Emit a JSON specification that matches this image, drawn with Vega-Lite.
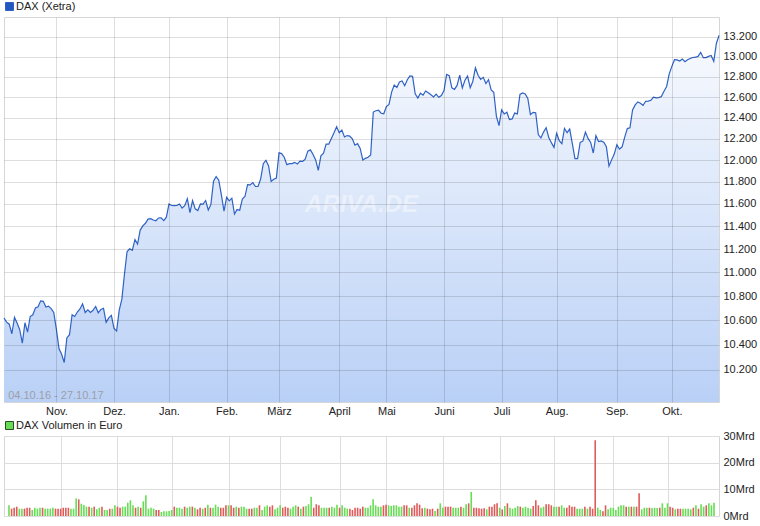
{
"$schema": "https://vega.github.io/schema/vega-lite/v6.json",
"padding": {"left": 1, "top": 0, "right": 0, "bottom": 0},
"spacing": 2,
"config": {
  "font": "Liberation Sans",
  "view": {"stroke": "#d6d6d6"},
  "axis": {"labelFont": "Liberation Sans", "labelFontSize": 11, "labelColor": "#222222", "gridColor": "#000000", "gridOpacity": 0.13, "ticks": false, "domain": false, "title": null},
  "legend": {"labelFont": "Liberation Sans", "labelFontSize": 11, "labelColor": "#222222", "symbolType": "square", "symbolSize": 64, "symbolStrokeWidth": 1, "orient": "top", "offset": 4, "padding": 0, "labelOffset": 1}
},
"data": {"values": [
{"i":0,"date":"2016-10-04","close":10619,"vol":4.0,"dir":"up"},
{"i":1,"date":"2016-10-05","close":10585,"vol":2.75,"dir":"down"},
{"i":2,"date":"2016-10-06","close":10568,"vol":3.1,"dir":"down"},
{"i":3,"date":"2016-10-07","close":10490,"vol":3.5,"dir":"down"},
{"i":4,"date":"2016-10-10","close":10624,"vol":2.75,"dir":"up"},
{"i":5,"date":"2016-10-11","close":10577,"vol":2.75,"dir":"up"},
{"i":6,"date":"2016-10-12","close":10523,"vol":2.75,"dir":"down"},
{"i":7,"date":"2016-10-13","close":10414,"vol":3.1,"dir":"down"},
{"i":8,"date":"2016-10-14","close":10580,"vol":3.1,"dir":"down"},
{"i":9,"date":"2016-10-17","close":10504,"vol":2.25,"dir":"up"},
{"i":10,"date":"2016-10-18","close":10631,"vol":3.1,"dir":"up"},
{"i":11,"date":"2016-10-19","close":10645,"vol":2.75,"dir":"up"},
{"i":12,"date":"2016-10-20","close":10701,"vol":3.1,"dir":"up"},
{"i":13,"date":"2016-10-21","close":10711,"vol":3.1,"dir":"down"},
{"i":14,"date":"2016-10-24","close":10761,"vol":2.75,"dir":"up"},
{"i":15,"date":"2016-10-25","close":10757,"vol":2.75,"dir":"up"},
{"i":16,"date":"2016-10-26","close":10709,"vol":2.75,"dir":"up"},
{"i":17,"date":"2016-10-27","close":10717,"vol":3.1,"dir":"up"},
{"i":18,"date":"2016-10-28","close":10696,"vol":2.75,"dir":"down"},
{"i":19,"date":"2016-10-31","close":10665,"vol":2.75,"dir":"down"},
{"i":20,"date":"2016-11-01","close":10526,"vol":2.75,"dir":"down"},
{"i":21,"date":"2016-11-02","close":10370,"vol":3.1,"dir":"down"},
{"i":22,"date":"2016-11-03","close":10325,"vol":3.1,"dir":"down"},
{"i":23,"date":"2016-11-04","close":10259,"vol":3.1,"dir":"down"},
{"i":24,"date":"2016-11-07","close":10456,"vol":2.75,"dir":"up"},
{"i":25,"date":"2016-11-08","close":10482,"vol":2.75,"dir":"up"},
{"i":26,"date":"2016-11-09","close":10646,"vol":6.6,"dir":"up"},
{"i":27,"date":"2016-11-10","close":10631,"vol":6.25,"dir":"down"},
{"i":28,"date":"2016-11-11","close":10668,"vol":4.6,"dir":"up"},
{"i":29,"date":"2016-11-14","close":10693,"vol":4.1,"dir":"up"},
{"i":30,"date":"2016-11-15","close":10735,"vol":3.5,"dir":"up"},
{"i":31,"date":"2016-11-16","close":10664,"vol":3.5,"dir":"down"},
{"i":32,"date":"2016-11-17","close":10686,"vol":3.1,"dir":"up"},
{"i":33,"date":"2016-11-18","close":10664,"vol":3.5,"dir":"down"},
{"i":34,"date":"2016-11-21","close":10682,"vol":2.5,"dir":"up"},
{"i":35,"date":"2016-11-22","close":10714,"vol":3.1,"dir":"up"},
{"i":36,"date":"2016-11-23","close":10662,"vol":3.5,"dir":"down"},
{"i":37,"date":"2016-11-24","close":10689,"vol":2.25,"dir":"up"},
{"i":38,"date":"2016-11-25","close":10699,"vol":2.25,"dir":"up"},
{"i":39,"date":"2016-11-28","close":10583,"vol":2.75,"dir":"down"},
{"i":40,"date":"2016-11-29","close":10620,"vol":2.75,"dir":"up"},
{"i":41,"date":"2016-11-30","close":10640,"vol":4.0,"dir":"up"},
{"i":42,"date":"2016-12-01","close":10534,"vol":3.5,"dir":"down"},
{"i":43,"date":"2016-12-02","close":10513,"vol":3.1,"dir":"down"},
{"i":44,"date":"2016-12-05","close":10684,"vol":3.5,"dir":"up"},
{"i":45,"date":"2016-12-06","close":10775,"vol":3.5,"dir":"up"},
{"i":46,"date":"2016-12-07","close":10987,"vol":5.0,"dir":"up"},
{"i":47,"date":"2016-12-08","close":11180,"vol":5.9,"dir":"up"},
{"i":48,"date":"2016-12-09","close":11203,"vol":4.0,"dir":"up"},
{"i":49,"date":"2016-12-12","close":11190,"vol":3.1,"dir":"down"},
{"i":50,"date":"2016-12-13","close":11284,"vol":3.5,"dir":"up"},
{"i":51,"date":"2016-12-14","close":11244,"vol":3.1,"dir":"down"},
{"i":52,"date":"2016-12-15","close":11367,"vol":5.5,"dir":"up"},
{"i":53,"date":"2016-12-16","close":11404,"vol":7.75,"dir":"up"},
{"i":54,"date":"2016-12-19","close":11427,"vol":2.75,"dir":"up"},
{"i":55,"date":"2016-12-20","close":11464,"vol":3.1,"dir":"up"},
{"i":56,"date":"2016-12-21","close":11468,"vol":2.75,"dir":"up"},
{"i":57,"date":"2016-12-22","close":11456,"vol":2.25,"dir":"down"},
{"i":58,"date":"2016-12-23","close":11449,"vol":2.25,"dir":"down"},
{"i":59,"date":"2016-12-27","close":11474,"vol":1.5,"dir":"up"},
{"i":60,"date":"2016-12-28","close":11475,"vol":1.75,"dir":"up"},
{"i":61,"date":"2016-12-29","close":11451,"vol":1.75,"dir":"up"},
{"i":62,"date":"2016-12-30","close":11481,"vol":1.9,"dir":"up"},
{"i":63,"date":"2017-01-02","close":11599,"vol":2.25,"dir":"up"},
{"i":64,"date":"2017-01-03","close":11585,"vol":3.5,"dir":"down"},
{"i":65,"date":"2017-01-04","close":11584,"vol":3.1,"dir":"up"},
{"i":66,"date":"2017-01-05","close":11585,"vol":3.1,"dir":"up"},
{"i":67,"date":"2017-01-06","close":11599,"vol":2.75,"dir":"up"},
{"i":68,"date":"2017-01-09","close":11563,"vol":3.5,"dir":"down"},
{"i":69,"date":"2017-01-10","close":11583,"vol":3.1,"dir":"up"},
{"i":70,"date":"2017-01-11","close":11646,"vol":3.5,"dir":"up"},
{"i":71,"date":"2017-01-12","close":11521,"vol":3.5,"dir":"down"},
{"i":72,"date":"2017-01-13","close":11629,"vol":3.1,"dir":"up"},
{"i":73,"date":"2017-01-16","close":11555,"vol":2.5,"dir":"down"},
{"i":74,"date":"2017-01-17","close":11540,"vol":3.1,"dir":"down"},
{"i":75,"date":"2017-01-18","close":11599,"vol":2.75,"dir":"up"},
{"i":76,"date":"2017-01-19","close":11597,"vol":3.1,"dir":"down"},
{"i":77,"date":"2017-01-20","close":11630,"vol":4.25,"dir":"up"},
{"i":78,"date":"2017-01-23","close":11545,"vol":3.1,"dir":"down"},
{"i":79,"date":"2017-01-24","close":11595,"vol":3.1,"dir":"up"},
{"i":80,"date":"2017-01-25","close":11806,"vol":4.25,"dir":"up"},
{"i":81,"date":"2017-01-26","close":11848,"vol":3.5,"dir":"up"},
{"i":82,"date":"2017-01-27","close":11814,"vol":3.1,"dir":"down"},
{"i":83,"date":"2017-01-30","close":11681,"vol":3.1,"dir":"down"},
{"i":84,"date":"2017-01-31","close":11535,"vol":4.0,"dir":"down"},
{"i":85,"date":"2017-02-01","close":11659,"vol":4.0,"dir":"up"},
{"i":86,"date":"2017-02-02","close":11627,"vol":4.0,"dir":"down"},
{"i":87,"date":"2017-02-03","close":11651,"vol":3.1,"dir":"down"},
{"i":88,"date":"2017-02-06","close":11509,"vol":3.5,"dir":"up"},
{"i":89,"date":"2017-02-07","close":11549,"vol":3.1,"dir":"down"},
{"i":90,"date":"2017-02-08","close":11543,"vol":3.5,"dir":"up"},
{"i":91,"date":"2017-02-09","close":11643,"vol":3.5,"dir":"up"},
{"i":92,"date":"2017-02-10","close":11666,"vol":2.75,"dir":"up"},
{"i":93,"date":"2017-02-13","close":11774,"vol":2.75,"dir":"down"},
{"i":94,"date":"2017-02-14","close":11771,"vol":2.75,"dir":"down"},
{"i":95,"date":"2017-02-15","close":11793,"vol":3.1,"dir":"up"},
{"i":96,"date":"2017-02-16","close":11757,"vol":3.1,"dir":"up"},
{"i":97,"date":"2017-02-17","close":11757,"vol":4.0,"dir":"down"},
{"i":98,"date":"2017-02-20","close":11827,"vol":2.25,"dir":"up"},
{"i":99,"date":"2017-02-21","close":11967,"vol":3.5,"dir":"up"},
{"i":100,"date":"2017-02-22","close":11998,"vol":4.0,"dir":"up"},
{"i":101,"date":"2017-02-23","close":11948,"vol":3.5,"dir":"down"},
{"i":102,"date":"2017-02-24","close":11804,"vol":4.0,"dir":"down"},
{"i":103,"date":"2017-02-27","close":11823,"vol":2.5,"dir":"up"},
{"i":104,"date":"2017-02-28","close":11834,"vol":3.1,"dir":"up"},
{"i":105,"date":"2017-03-01","close":12067,"vol":4.0,"dir":"up"},
{"i":106,"date":"2017-03-02","close":12060,"vol":3.1,"dir":"down"},
{"i":107,"date":"2017-03-03","close":12027,"vol":3.5,"dir":"down"},
{"i":108,"date":"2017-03-06","close":11958,"vol":3.1,"dir":"down"},
{"i":109,"date":"2017-03-07","close":11967,"vol":2.75,"dir":"up"},
{"i":110,"date":"2017-03-08","close":11967,"vol":3.5,"dir":"up"},
{"i":111,"date":"2017-03-09","close":11979,"vol":4.0,"dir":"up"},
{"i":112,"date":"2017-03-10","close":11963,"vol":3.5,"dir":"down"},
{"i":113,"date":"2017-03-13","close":11990,"vol":2.75,"dir":"up"},
{"i":114,"date":"2017-03-14","close":11988,"vol":3.5,"dir":"down"},
{"i":115,"date":"2017-03-15","close":12009,"vol":3.75,"dir":"up"},
{"i":116,"date":"2017-03-16","close":12083,"vol":4.4,"dir":"up"},
{"i":117,"date":"2017-03-17","close":12095,"vol":7.1,"dir":"up"},
{"i":118,"date":"2017-03-20","close":12052,"vol":3.1,"dir":"down"},
{"i":119,"date":"2017-03-21","close":12001,"vol":4.4,"dir":"down"},
{"i":120,"date":"2017-03-22","close":11904,"vol":4.0,"dir":"down"},
{"i":121,"date":"2017-03-23","close":12040,"vol":3.1,"dir":"up"},
{"i":122,"date":"2017-03-24","close":12064,"vol":3.1,"dir":"up"},
{"i":123,"date":"2017-03-27","close":12150,"vol":3.1,"dir":"up"},
{"i":124,"date":"2017-03-28","close":12149,"vol":3.1,"dir":"down"},
{"i":125,"date":"2017-03-29","close":12203,"vol":3.5,"dir":"up"},
{"i":126,"date":"2017-03-30","close":12256,"vol":3.1,"dir":"up"},
{"i":127,"date":"2017-03-31","close":12313,"vol":4.25,"dir":"up"},
{"i":128,"date":"2017-04-03","close":12257,"vol":3.1,"dir":"down"},
{"i":129,"date":"2017-04-04","close":12282,"vol":4.0,"dir":"up"},
{"i":130,"date":"2017-04-05","close":12217,"vol":3.1,"dir":"up"},
{"i":131,"date":"2017-04-06","close":12230,"vol":2.75,"dir":"up"},
{"i":132,"date":"2017-04-07","close":12225,"vol":2.75,"dir":"down"},
{"i":133,"date":"2017-04-10","close":12200,"vol":2.25,"dir":"down"},
{"i":134,"date":"2017-04-11","close":12139,"vol":3.1,"dir":"down"},
{"i":135,"date":"2017-04-12","close":12154,"vol":3.1,"dir":"down"},
{"i":136,"date":"2017-04-13","close":12109,"vol":2.75,"dir":"down"},
{"i":137,"date":"2017-04-18","close":12000,"vol":3.5,"dir":"down"},
{"i":138,"date":"2017-04-19","close":12016,"vol":3.1,"dir":"up"},
{"i":139,"date":"2017-04-20","close":12027,"vol":3.1,"dir":"up"},
{"i":140,"date":"2017-04-21","close":12048,"vol":4.0,"dir":"up"},
{"i":141,"date":"2017-04-24","close":12455,"vol":6.25,"dir":"up"},
{"i":142,"date":"2017-04-25","close":12467,"vol":4.0,"dir":"up"},
{"i":143,"date":"2017-04-26","close":12472,"vol":3.5,"dir":"up"},
{"i":144,"date":"2017-04-27","close":12443,"vol":3.5,"dir":"up"},
{"i":145,"date":"2017-04-28","close":12438,"vol":4.0,"dir":"down"},
{"i":146,"date":"2017-05-02","close":12507,"vol":4.25,"dir":"down"},
{"i":147,"date":"2017-05-03","close":12528,"vol":4.0,"dir":"up"},
{"i":148,"date":"2017-05-04","close":12648,"vol":3.75,"dir":"up"},
{"i":149,"date":"2017-05-05","close":12717,"vol":4.0,"dir":"up"},
{"i":150,"date":"2017-05-08","close":12694,"vol":4.0,"dir":"up"},
{"i":151,"date":"2017-05-09","close":12749,"vol":3.5,"dir":"up"},
{"i":152,"date":"2017-05-10","close":12758,"vol":3.5,"dir":"up"},
{"i":153,"date":"2017-05-11","close":12711,"vol":4.0,"dir":"down"},
{"i":154,"date":"2017-05-12","close":12770,"vol":4.0,"dir":"down"},
{"i":155,"date":"2017-05-15","close":12808,"vol":3.1,"dir":"up"},
{"i":156,"date":"2017-05-16","close":12804,"vol":3.1,"dir":"down"},
{"i":157,"date":"2017-05-17","close":12631,"vol":4.0,"dir":"down"},
{"i":158,"date":"2017-05-18","close":12590,"vol":4.75,"dir":"down"},
{"i":159,"date":"2017-05-19","close":12638,"vol":4.25,"dir":"down"},
{"i":160,"date":"2017-05-22","close":12619,"vol":2.9,"dir":"down"},
{"i":161,"date":"2017-05-23","close":12659,"vol":3.1,"dir":"up"},
{"i":162,"date":"2017-05-24","close":12643,"vol":2.75,"dir":"down"},
{"i":163,"date":"2017-05-25","close":12622,"vol":2.5,"dir":"down"},
{"i":164,"date":"2017-05-26","close":12602,"vol":2.75,"dir":"down"},
{"i":165,"date":"2017-05-29","close":12629,"vol":1.9,"dir":"up"},
{"i":166,"date":"2017-05-30","close":12598,"vol":2.75,"dir":"down"},
{"i":167,"date":"2017-05-31","close":12615,"vol":4.75,"dir":"up"},
{"i":168,"date":"2017-06-01","close":12664,"vol":3.1,"dir":"up"},
{"i":169,"date":"2017-06-02","close":12823,"vol":3.5,"dir":"down"},
{"i":170,"date":"2017-06-05","close":12810,"vol":3.5,"dir":"down"},
{"i":171,"date":"2017-06-06","close":12690,"vol":3.5,"dir":"down"},
{"i":172,"date":"2017-06-07","close":12675,"vol":3.1,"dir":"up"},
{"i":173,"date":"2017-06-08","close":12714,"vol":3.1,"dir":"up"},
{"i":174,"date":"2017-06-09","close":12816,"vol":3.1,"dir":"up"},
{"i":175,"date":"2017-06-12","close":12690,"vol":3.5,"dir":"down"},
{"i":176,"date":"2017-06-13","close":12765,"vol":3.1,"dir":"up"},
{"i":177,"date":"2017-06-14","close":12806,"vol":4.4,"dir":"up"},
{"i":178,"date":"2017-06-15","close":12692,"vol":4.75,"dir":"down"},
{"i":179,"date":"2017-06-16","close":12753,"vol":9.0,"dir":"up"},
{"i":180,"date":"2017-06-19","close":12889,"vol":3.1,"dir":"down"},
{"i":181,"date":"2017-06-20","close":12815,"vol":3.1,"dir":"down"},
{"i":182,"date":"2017-06-21","close":12774,"vol":2.9,"dir":"down"},
{"i":183,"date":"2017-06-22","close":12794,"vol":2.75,"dir":"down"},
{"i":184,"date":"2017-06-23","close":12733,"vol":2.9,"dir":"down"},
{"i":185,"date":"2017-06-26","close":12771,"vol":2.5,"dir":"up"},
{"i":186,"date":"2017-06-27","close":12671,"vol":3.5,"dir":"down"},
{"i":187,"date":"2017-06-28","close":12647,"vol":3.5,"dir":"down"},
{"i":188,"date":"2017-06-29","close":12416,"vol":4.4,"dir":"down"},
{"i":189,"date":"2017-06-30","close":12325,"vol":4.75,"dir":"down"},
{"i":190,"date":"2017-07-03","close":12475,"vol":3.1,"dir":"up"},
{"i":191,"date":"2017-07-04","close":12437,"vol":2.5,"dir":"down"},
{"i":192,"date":"2017-07-05","close":12453,"vol":3.75,"dir":"up"},
{"i":193,"date":"2017-07-06","close":12382,"vol":4.75,"dir":"down"},
{"i":194,"date":"2017-07-07","close":12389,"vol":3.1,"dir":"up"},
{"i":195,"date":"2017-07-10","close":12445,"vol":2.75,"dir":"up"},
{"i":196,"date":"2017-07-11","close":12437,"vol":3.1,"dir":"up"},
{"i":197,"date":"2017-07-12","close":12626,"vol":3.75,"dir":"up"},
{"i":198,"date":"2017-07-13","close":12641,"vol":3.5,"dir":"down"},
{"i":199,"date":"2017-07-14","close":12631,"vol":3.1,"dir":"up"},
{"i":200,"date":"2017-07-17","close":12587,"vol":3.5,"dir":"up"},
{"i":201,"date":"2017-07-18","close":12430,"vol":3.1,"dir":"up"},
{"i":202,"date":"2017-07-19","close":12452,"vol":2.75,"dir":"up"},
{"i":203,"date":"2017-07-20","close":12448,"vol":3.75,"dir":"down"},
{"i":204,"date":"2017-07-21","close":12240,"vol":5.9,"dir":"down"},
{"i":205,"date":"2017-07-24","close":12208,"vol":4.0,"dir":"down"},
{"i":206,"date":"2017-07-25","close":12263,"vol":3.1,"dir":"up"},
{"i":207,"date":"2017-07-26","close":12305,"vol":3.5,"dir":"up"},
{"i":208,"date":"2017-07-27","close":12212,"vol":4.4,"dir":"down"},
{"i":209,"date":"2017-07-28","close":12163,"vol":4.4,"dir":"down"},
{"i":210,"date":"2017-07-31","close":12118,"vol":4.0,"dir":"down"},
{"i":211,"date":"2017-08-01","close":12251,"vol":3.5,"dir":"up"},
{"i":212,"date":"2017-08-02","close":12181,"vol":3.5,"dir":"up"},
{"i":213,"date":"2017-08-03","close":12154,"vol":3.5,"dir":"down"},
{"i":214,"date":"2017-08-04","close":12298,"vol":4.0,"dir":"up"},
{"i":215,"date":"2017-08-07","close":12257,"vol":3.1,"dir":"up"},
{"i":216,"date":"2017-08-08","close":12292,"vol":3.1,"dir":"down"},
{"i":217,"date":"2017-08-09","close":12154,"vol":4.0,"dir":"down"},
{"i":218,"date":"2017-08-10","close":12014,"vol":3.5,"dir":"down"},
{"i":219,"date":"2017-08-11","close":12014,"vol":3.5,"dir":"down"},
{"i":220,"date":"2017-08-14","close":12165,"vol":2.75,"dir":"up"},
{"i":221,"date":"2017-08-15","close":12177,"vol":2.75,"dir":"up"},
{"i":222,"date":"2017-08-16","close":12263,"vol":2.75,"dir":"up"},
{"i":223,"date":"2017-08-17","close":12203,"vol":3.5,"dir":"down"},
{"i":224,"date":"2017-08-18","close":12165,"vol":2.75,"dir":"up"},
{"i":225,"date":"2017-08-21","close":12066,"vol":3.5,"dir":"down"},
{"i":226,"date":"2017-08-22","close":12230,"vol":2.75,"dir":"down"},
{"i":227,"date":"2017-08-23","close":12174,"vol":28.4,"dir":"down"},
{"i":228,"date":"2017-08-24","close":12180,"vol":3.1,"dir":"up"},
{"i":229,"date":"2017-08-25","close":12168,"vol":2.25,"dir":"up"},
{"i":230,"date":"2017-08-28","close":12124,"vol":1.75,"dir":"down"},
{"i":231,"date":"2017-08-29","close":11945,"vol":4.0,"dir":"down"},
{"i":232,"date":"2017-08-30","close":12002,"vol":2.5,"dir":"up"},
{"i":233,"date":"2017-08-31","close":12056,"vol":3.1,"dir":"up"},
{"i":234,"date":"2017-09-01","close":12143,"vol":3.1,"dir":"up"},
{"i":235,"date":"2017-09-04","close":12102,"vol":2.25,"dir":"up"},
{"i":236,"date":"2017-09-05","close":12124,"vol":3.5,"dir":"up"},
{"i":237,"date":"2017-09-06","close":12215,"vol":4.0,"dir":"up"},
{"i":238,"date":"2017-09-07","close":12296,"vol":4.0,"dir":"up"},
{"i":239,"date":"2017-09-08","close":12303,"vol":3.5,"dir":"down"},
{"i":240,"date":"2017-09-11","close":12475,"vol":3.5,"dir":"up"},
{"i":241,"date":"2017-09-12","close":12524,"vol":3.5,"dir":"down"},
{"i":242,"date":"2017-09-13","close":12553,"vol":3.5,"dir":"up"},
{"i":243,"date":"2017-09-14","close":12540,"vol":3.5,"dir":"down"},
{"i":244,"date":"2017-09-15","close":12519,"vol":8.5,"dir":"down"},
{"i":245,"date":"2017-09-18","close":12559,"vol":2.5,"dir":"up"},
{"i":246,"date":"2017-09-19","close":12561,"vol":3.1,"dir":"up"},
{"i":247,"date":"2017-09-20","close":12569,"vol":3.1,"dir":"up"},
{"i":248,"date":"2017-09-21","close":12600,"vol":3.1,"dir":"down"},
{"i":249,"date":"2017-09-22","close":12592,"vol":3.0,"dir":"up"},
{"i":250,"date":"2017-09-25","close":12595,"vol":3.1,"dir":"up"},
{"i":251,"date":"2017-09-26","close":12605,"vol":3.0,"dir":"up"},
{"i":252,"date":"2017-09-27","close":12657,"vol":3.1,"dir":"down"},
{"i":253,"date":"2017-09-28","close":12704,"vol":4.75,"dir":"up"},
{"i":254,"date":"2017-09-29","close":12829,"vol":3.1,"dir":"up"},
{"i":255,"date":"2017-10-02","close":12903,"vol":4.75,"dir":"up"},
{"i":256,"date":"2017-10-04","close":12970,"vol":3.5,"dir":"down"},
{"i":257,"date":"2017-10-05","close":12968,"vol":3.1,"dir":"down"},
{"i":258,"date":"2017-10-06","close":12956,"vol":2.5,"dir":"up"},
{"i":259,"date":"2017-10-09","close":12976,"vol":2.75,"dir":"down"},
{"i":260,"date":"2017-10-10","close":12949,"vol":2.75,"dir":"down"},
{"i":261,"date":"2017-10-11","close":12970,"vol":2.75,"dir":"up"},
{"i":262,"date":"2017-10-12","close":12982,"vol":2.75,"dir":"up"},
{"i":263,"date":"2017-10-13","close":12992,"vol":2.75,"dir":"up"},
{"i":264,"date":"2017-10-16","close":12995,"vol":2.5,"dir":"up"},
{"i":265,"date":"2017-10-17","close":13003,"vol":3.1,"dir":"down"},
{"i":266,"date":"2017-10-18","close":13044,"vol":4.0,"dir":"up"},
{"i":267,"date":"2017-10-19","close":12990,"vol":2.75,"dir":"down"},
{"i":268,"date":"2017-10-20","close":12991,"vol":4.4,"dir":"up"},
{"i":269,"date":"2017-10-23","close":13003,"vol":3.5,"dir":"up"},
{"i":270,"date":"2017-10-24","close":13013,"vol":4.0,"dir":"down"},
{"i":271,"date":"2017-10-25","close":12953,"vol":4.75,"dir":"up"},
{"i":272,"date":"2017-10-26","close":13134,"vol":4.0,"dir":"up"},
{"i":273,"date":"2017-10-27","close":13217,"vol":5.0,"dir":"up"}
]},
"vconcat": [
  {
    "width": 715,
    "height": 385,
    "layer": [
      {
        "mark": {"type": "area", "color": {"gradient": "linear", "x1": 0, "y1": 0, "x2": 0, "y2": 1, "stops": [{"offset": 0, "color": "#f8fafe"}, {"offset": 1, "color": "#b9d0f6"}]}},
        "encoding": {
          "x": {"field": "i", "type": "quantitative", "scale": {"domain": [0, 273], "nice": false, "zero": false},
                "axis": {"values": [20, 42, 63, 85, 105, 128, 146, 168, 190, 211, 234, 255],
                         "labelExpr": "['Nov.','Dez.','Jan.','Feb.','März','April','Mai','Juni','Juli','Aug.','Sep.','Okt.'][indexof([20,42,63,85,105,128,146,168,190,211,234,255], datum.value)]",
                         "grid": true, "labelPadding": 3, "zindex": 1}},
          "y": {"field": "close", "type": "quantitative", "scale": {"type": "log", "domain": [9950, 13406], "nice": false},
                "axis": {"orient": "right", "values": [10200, 10400, 10600, 10800, 11000, 11200, 11400, 11600, 11800, 12000, 12200, 12400, 12600, 12800, 13000, 13200],
                         "labelExpr": "replace(format(datum.value, ','), ',', '.')", "grid": true, "labelPadding": 4, "zindex": 1}},
          "y2": {"datum": 9950}
        }
      },
      {
        "mark": {"type": "line", "strokeWidth": 1.2},
        "encoding": {
          "x": {"field": "i", "type": "quantitative"},
          "y": {"field": "close", "type": "quantitative"},
          "color": {"datum": "DAX (Xetra)", "scale": {"range": ["#2f62c6"]},
                    "legend": {"title": null, "encode": {"symbols": {"update": {"fill": {"value": "#2356c0"}, "stroke": {"value": "#1b2f66"}, "strokeWidth": {"value": 1}}}}}}
        }
      },
      {
        "data": {"values": [{"label": "04.10.16 - 27.10.17"}]},
        "mark": {"type": "text", "align": "left", "baseline": "middle", "fontSize": 11, "color": "#9c9fa6"},
        "encoding": {"x": {"datum": 1.6}, "y": {"datum": 10000}, "text": {"field": "label"}}
      },
      {
        "data": {"values": [{"label": "ARIVA.DE"}]},
        "mark": {"type": "text", "align": "center", "baseline": "middle", "fontSize": 24, "fontStyle": "italic", "fontWeight": "bold", "color": "#ffffff", "opacity": 0.45},
        "encoding": {"x": {"datum": 136.5}, "y": {"datum": 11590}, "text": {"field": "label"}}
      }
    ]
  },
  {
    "width": 715,
    "height": 80,
    "mark": {"type": "bar", "width": 1.6},
    "encoding": {
      "x": {"field": "i", "type": "quantitative", "scale": {"domain": [0, 273], "nice": false, "zero": false},
            "axis": {"values": [20, 42, 63, 85, 105, 128, 146, 168, 190, 211, 234, 255], "labels": false, "grid": true, "gridColor": "#dddddd", "gridOpacity": 1}},
      "y": {"field": "vol", "type": "quantitative", "scale": {"domain": [0, 30], "nice": false},
            "axis": {"orient": "right", "values": [0, 10, 20, 30], "labelExpr": "datum.value + 'Mrd'", "grid": true, "gridColor": "#dddddd", "gridOpacity": 1, "labelPadding": 4}},
      "color": {"field": "dir", "type": "nominal", "scale": {"domain": ["up", "down"], "range": ["#66dd55", "#e05a5a"]},
                "legend": {"title": null, "values": ["up"], "labelExpr": "'DAX Volumen in Euro'",
                           "encode": {"symbols": {"update": {"fill": {"value": "#66dd66"}, "stroke": {"value": "#2a4a2a"}, "strokeWidth": {"value": 1}}}}}}
    }
  }
],
"resolve": {"scale": {"color": "independent", "x": "independent"}, "legend": {"color": "independent"}}
}
